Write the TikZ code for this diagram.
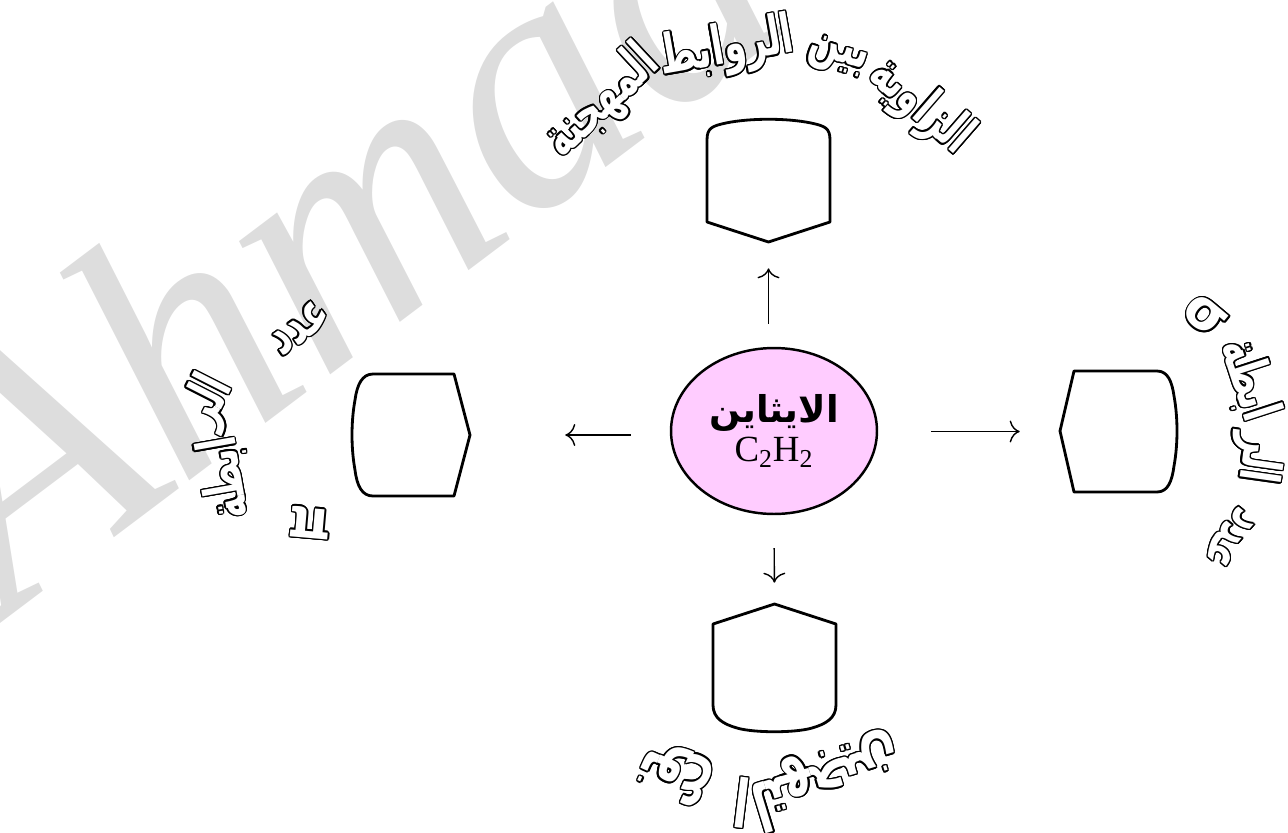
\documentclass[tikz,border=0pt]{standalone}
\usepackage{fontspec}
\setmainfont{Liberation Serif}
\newfontfamily\arabicfont[Script=Arabic]{DejaVu Sans}
\newfontfamily\arabicnarrow[Script=Arabic, FakeStretch=0.66]{DejaVu Sans}
\newfontfamily\greekfont{DejaVu Sans}
\usepackage{contour}
\contourlength{0.8pt}
\contournumber{16}
\TeXXeTstate=1
\usetikzlibrary{arrows.meta, shapes.geometric}
\definecolor{ethyneBack}{HTML}{FFCCFF}
\definecolor{markGray}  {HTML}{DDDDDD}
\tikzset{
    slot/.style={rectangle, inner sep=0pt},
    boxline/.style={line width=1.6pt, line join=round},
    hub/.style={ellipse, draw, line width=1.4pt, fill=ethyneBack,
                minimum width=4.12cm, minimum height=3.32cm,
                inner sep=0pt, align=center},
    flowarrow/.style={line width=0.8pt, -{To[length=2mm, width=4.4mm]}},
    curvetext/.style={inner sep=0pt,
                      font=\arabicnarrow\bfseries\fontsize{31}{33}\selectfont},
    bigcurvetext/.style={curvetext,
                      font=\arabicnarrow\bfseries\fontsize{38}{40}\selectfont},
    watermark/.style={text=markGray, inner sep=0pt,
                      font=\itshape\fontsize{200}{200}\selectfont},
}
\newcommand\hollow[1]{\contour{black}{\color{white}#1}}
\newcommand\bendword[1]{\hollow{\beginR #1\endR}}

\begin{document}
\begin{tikzpicture}[x=0.02cm, y=-0.02cm]
\useasboundingbox (0,0) rectangle (1288,832);

% --- watermark ---
\begin{scope}
\clip (0,0) rectangle (1288,832);
\node[watermark, rotate=37, anchor=base west] (mark) at (8,618) {Ahmad};
\end{scope}

% --- centre ---
\node[hub] (ethyne) at (774,431)
    {{\arabicfont\bfseries\fontsize{21}{24}\selectfont\beginR الايثاين\endR}\\[2pt]
     {\fontsize{21}{24}\selectfont C\textsubscript{2}H\textsubscript{2}}};

% --- answer boxes ---
\node[slot, minimum width=2.46cm, minimum height=2.5cm]  (anglebox)  at (768.5,179.5) {};
\node[slot, minimum width=2.36cm, minimum height=2.44cm] (pibox)     at (411,435) {};
\node[slot, minimum width=2.34cm, minimum height=2.42cm] (sigmabox)  at (1118.5,431.5) {};
\node[slot, minimum width=2.46cm, minimum height=2.58cm] (hybridbox) at (774.5,668.5) {};

\draw[boxline] (707,222) -- (707,140) .. controls (707,128) and (712,126) .. (726,123)
    .. controls (750,118) and (787,118) .. (811,123)
    .. controls (825,126) and (830,128) .. (830,140) -- (830,222) -- (768.5,242) -- cycle;
\draw[boxline] (454,374) -- (470,435) -- (454,496) -- (373,496)
    .. controls (362,496) and (357,486) .. (355,470)
    .. controls (351,448) and (351,422) .. (355,400)
    .. controls (357,385) and (362,374) .. (373,374) -- cycle;
\draw[boxline] (1074,371) -- (1157,371) .. controls (1168,371) and (1172,382) .. (1174,396)
    .. controls (1178,418) and (1178,444) .. (1174,466)
    .. controls (1172,481) and (1168,492) .. (1157,492) -- (1074,492) -- (1060,431) -- cycle;
\draw[boxline] (713,705) -- (713,624) -- (774.5,604) -- (836,624) -- (836,705)
    .. controls (836,718) and (826,724) .. (812,728)
    .. controls (795,733) and (754,733) .. (737,728)
    .. controls (723,724) and (713,718) .. (713,705) -- cycle;

% --- arrows ---
\draw[flowarrow, shorten <=0.46cm, shorten >=0.52cm] (ethyne.north -| anglebox.south) -- (anglebox.south);
\draw[flowarrow, shorten <=0.78cm, shorten >=1.9cm]  (ethyne.west |- pibox.east) -- (pibox.east);
\draw[flowarrow, shorten <=1.06cm, shorten >=0.8cm]  (ethyne.east |- sigmabox.west) -- (sigmabox.west);
\draw[flowarrow, shorten <=0.66cm, shorten >=0.42cm] (ethyne.south) -- (hybridbox.north);

% --- curved labels ---
\node[curvetext, rotate=-41] (t-angle1) at (920,107) {\bendword{الزاوية}};
\node[curvetext, rotate=-17] (t-angle2) at (837,58)  {\bendword{بين}};
\node[curvetext, rotate=10]  (t-angle3) at (727,50)  {\bendword{الروابط}};
\node[curvetext, rotate=43]  (t-angle4) at (603,103) {\bendword{المهجنة}};

\node[curvetext, rotate=35]  (t-pi1) at (300,328) {\bendword{عدد}};
\node[curvetext, rotate=63]  (t-pi2) at (210,402) {\bendword{الر}};
\node[curvetext, rotate=100] (t-pi3) at (226,478) {\bendword{ابطة}};
\node[curvetext, rotate=175] (t-pi4) at (310,522) {\hollow{\greekfont π}};

\node[curvetext, rotate=-130] (t-sigma1) at (1230,538) {\bendword{عدد}};
\node[curvetext, rotate=-98]  (t-sigma2) at (1256,458) {\bendword{الر}};
\node[curvetext, rotate=-72]  (t-sigma3) at (1248,380) {\bendword{ابطة}};
\node[curvetext, rotate=-40]  (t-sigma4) at (1205,317) {\hollow{\greekfont σ}};

\node[bigcurvetext, rotate=156] (t-hyb1) at (676,772) {\bendword{نوع}};
\node[bigcurvetext, rotate=173] (t-hyb2) at (742,802) {\bendword{ا}};
\node[bigcurvetext, rotate=197] (t-hyb3) at (826,780) {\bendword{لتهجين}};
\end{tikzpicture}
\end{document}
